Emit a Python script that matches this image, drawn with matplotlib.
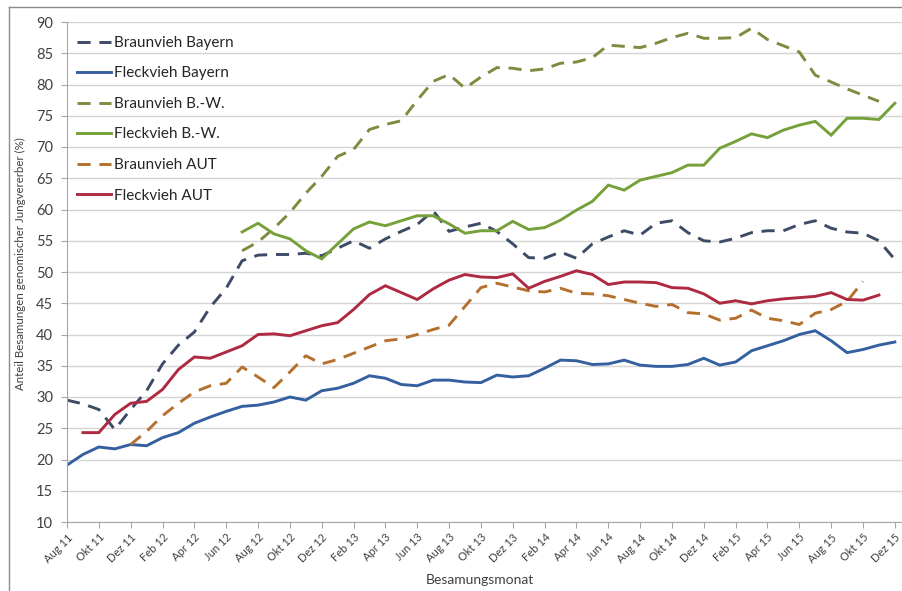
"""
Anteil Besamungen genomischer Jungvererber nach Besamungsmonat
(Braunvieh / Fleckvieh in Bayern, B.-W. und AUT).
"""

import numpy as np
import matplotlib.pyplot as plt
from matplotlib.lines import Line2D

plt.rcParams["font.family"] = ["Lato", "DejaVu Sans"]

# month index 0 = Aug 11 ... 52 = Dez 15
months = np.arange(53)
tick_labels = [
    "Aug 11", "Okt 11", "Dez 11", "Feb 12", "Apr 12", "Jun 12", "Aug 12",
    "Okt 12", "Dez 12", "Feb 13", "Apr 13", "Jun 13", "Aug 13", "Okt 13",
    "Dez 13", "Feb 14", "Apr 14", "Jun 14", "Aug 14", "Okt 14", "Dez 14",
    "Feb 15", "Apr 15", "Jun 15", "Aug 15", "Okt 15", "Dez 15",
]

# (first month index, values in %)
braun_bayern_start = 0
braun_bayern = [29.5, 28.9, 28.0, 24.8, 28.0, 31.0, 35.3, 38.3, 40.4, 44.4,
                47.4, 51.8, 52.7, 52.8, 52.8, 53.0, 52.6, 53.8, 55.0, 53.8,
                55.3, 56.5, 57.6, 59.8, 56.5, 57.2, 57.8, 56.5, 54.5, 52.3,
                52.2, 53.2, 52.2, 54.5, 55.6, 56.6, 55.9, 57.8, 58.2, 56.3,
                55.0, 54.8, 55.4, 56.3, 56.6, 56.6, 57.6, 58.2, 57.0, 56.4,
                56.2, 55.0, 52.0]

fleck_bayern_start = 0
fleck_bayern = [19.1, 20.8, 22.0, 21.7, 22.4, 22.2, 23.5, 24.3, 25.8, 26.8,
                27.7, 28.5, 28.7, 29.2, 30.0, 29.5, 31.0, 31.4, 32.2, 33.4,
                33.0, 32.0, 31.8, 32.7, 32.7, 32.4, 32.3, 33.5, 33.2, 33.4,
                34.6, 35.9, 35.8, 35.2, 35.3, 35.9, 35.1, 34.9, 34.9, 35.2,
                36.2, 35.1, 35.6, 37.4, 38.2, 39.0, 40.0, 40.6, 39.0, 37.1,
                37.6, 38.3, 38.8]

braun_bw_start = 11
braun_bw = [53.4, 54.8, 57.0, 59.5, 62.6, 65.3, 68.5, 69.6, 72.8, 73.6,
            74.2, 77.5, 80.5, 81.6, 79.4, 81.2, 82.7, 82.6, 82.2, 82.5,
            83.4, 83.6, 84.3, 86.3, 86.1, 85.9, 86.6, 87.5, 88.2, 87.4,
            87.4, 87.5, 89.0, 87.2, 86.2, 85.2, 81.5, 80.4, 79.3, 78.3,
            77.3]

fleck_bw_start = 11
fleck_bw = [56.4, 57.8, 56.1, 55.3, 53.4, 52.1, 54.5, 56.9, 58.0, 57.4,
            58.2, 59.0, 59.0, 57.7, 56.2, 56.6, 56.6, 58.1, 56.8, 57.1,
            58.3, 59.9, 61.3, 63.9, 63.1, 64.7, 65.3, 65.9, 67.1, 67.1,
            69.8, 70.9, 72.1, 71.5, 72.7, 73.5, 74.1, 71.9, 74.6, 74.6,
            74.4, 77.0]

braun_aut_start = 4
braun_aut = [22.4, 24.5, 27.0, 29.0, 30.8, 31.8, 32.2, 34.8, 33.2, 31.5,
             34.0, 36.6, 35.3, 36.0, 37.0, 38.0, 39.0, 39.3, 40.0, 40.8,
             41.5, 44.5, 47.5, 48.2, 47.6, 47.0, 46.8, 47.4, 46.6, 46.5,
             46.2, 45.6, 45.0, 44.5, 44.8, 43.5, 43.3, 42.3, 42.6, 43.9,
             42.6, 42.2, 41.6, 43.4, 44.0, 45.3, 48.5]

fleck_aut_start = 1
fleck_aut = [24.3, 24.3, 27.2, 29.0, 29.3, 31.2, 34.4, 36.4, 36.2, 37.2,
             38.2, 40.0, 40.1, 39.8, 40.6, 41.4, 41.9, 44.0, 46.4, 47.8,
             46.7, 45.6, 47.3, 48.7, 49.6, 49.2, 49.1, 49.7, 47.4, 48.5,
             49.3, 50.2, 49.6, 48.0, 48.4, 48.4, 48.3, 47.5, 47.4, 46.5,
             45.0, 45.4, 44.9, 45.4, 45.7, 45.9, 46.1, 46.7, 45.6, 45.5,
             46.3]


def full(start, values):
    y = np.full(len(months), np.nan)
    y[start:start + len(values)] = values
    return y


DASH = (0, (4.5, 3))
series = [
    ("Braunvieh Bayern", full(braun_bayern_start, braun_bayern), "#3d4b66", DASH),
    ("Fleckvieh Bayern", full(fleck_bayern_start, fleck_bayern), "#35609f", "-"),
    ("Braunvieh B.-W.", full(braun_bw_start, braun_bw), "#7d8b3f", DASH),
    ("Fleckvieh B.-W.", full(fleck_bw_start, fleck_bw), "#76a03a", "-"),
    ("Braunvieh AUT", full(braun_aut_start, braun_aut), "#b5702e", DASH),
    ("Fleckvieh AUT", full(fleck_aut_start, fleck_aut), "#ae2a42", "-"),
]

W, H = 903, 591
fig = plt.figure(figsize=(W / 100, H / 100), dpi=100)
ax = fig.add_axes([67 / W, 1 - 522 / H, (902 - 67) / W, (522 - 22) / H])

for label, y, color, ls in series:
    ax.plot(months, y, color=color, linestyle=ls, lw=2.1, label=label,
            solid_joinstyle="miter", dash_capstyle="butt")

ax.set_xlim(0, 52.45)
ax.set_ylim(10, 90)
ax.set_yticks(np.arange(10, 91, 5))
ax.set_xticks(months[::2])
ax.set_xticklabels(tick_labels, rotation=45, ha="right",
                   rotation_mode="anchor", fontsize=8, color="#404040")
ax.tick_params(axis="y", labelsize=10.5, colors="#404040", length=4,
               color="#a6a6a6", pad=6)
ax.tick_params(axis="x", length=4, color="#a6a6a6", pad=3)
ax.grid(axis="y", color="#d4d4d4", lw=1)
ax.set_axisbelow(True)
for side in ["top", "right"]:
    ax.spines[side].set_visible(False)
for side in ["left", "bottom"]:
    ax.spines[side].set_color("#a6a6a6")

ax.legend(loc="upper left", bbox_to_anchor=(0.012, 0.972), frameon=False,
          fontsize=11, borderpad=0, borderaxespad=0, handlelength=2.2,
          handletextpad=0.2, labelspacing=1.08, labelcolor="#262626")

fig.text(480 / W, 1 - 580 / H, "Besamungsmonat", ha="center", va="center",
         fontsize=10, color="#404040")
fig.text(20 / W, 1 - 264 / H, "Anteil Besamungen genomischer Jungvererber (%)",
         ha="center", va="center", rotation=90, fontsize=8.3, color="#404040")

# outer chart border (top and left visible in the crop)
fig.add_artist(Line2D([9 / W, 1], [1 - 7 / H, 1 - 7 / H], color="#8c8c8c", lw=1))
fig.add_artist(Line2D([9 / W, 9 / W], [0, 1 - 7 / H], color="#8c8c8c", lw=1))

fig.savefig("out.png", dpi=100)
